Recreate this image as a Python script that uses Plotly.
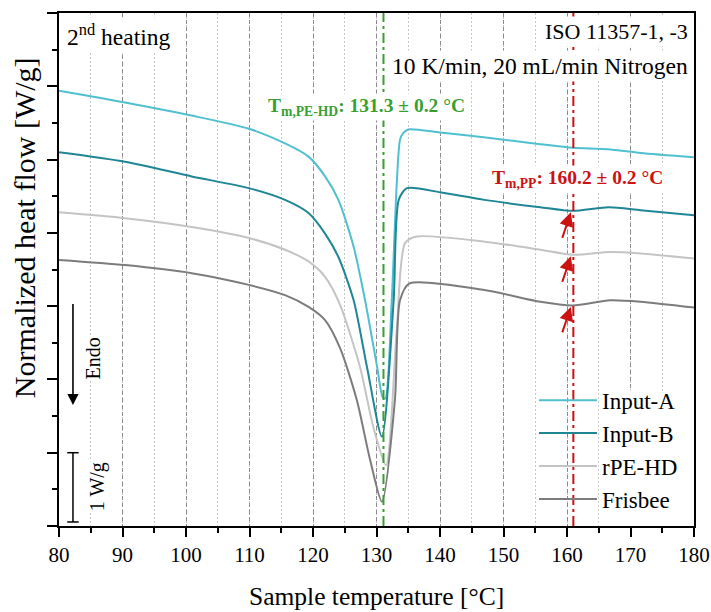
import plotly.graph_objects as go

# ---- data ----
temp_a = [80, 90.4, 100.9, 109.9, 115.6, 119.3, 121.9, 124.0, 126.4, 128.2, 130.1, 131.0, 131.4, 132.4, 133.7, 134.2, 135.0, 140.0, 147.2, 155.8, 160.9, 166.4, 171.6, 180]
flow_a = [5.94, 5.78, 5.60, 5.42, 5.22, 5.04, 4.77, 4.45, 3.81, 3.08, 2.17, 1.75, 1.74, 3.08, 5.27, 5.36, 5.41, 5.37, 5.30, 5.21, 5.16, 5.14, 5.09, 5.03]

temp_b = [80, 90.4, 100.9, 109.9, 115.6, 119.3, 121.9, 124.0, 126.4, 128.5, 130.85, 132.7, 133.5, 134.8, 140.2, 147.0, 155.8, 160.9, 166.6, 171.6, 180]
flow_b = [5.10, 4.97, 4.77, 4.61, 4.45, 4.27, 3.99, 3.67, 3.08, 2.17, 1.22, 3.08, 4.45, 4.61, 4.55, 4.45, 4.35, 4.30, 4.35, 4.31, 4.24]

temp_r = [80, 90.4, 100.9, 109.9, 115.6, 119.3, 121.9, 124.2, 127.4, 129.5, 131.5, 133.2, 134.5, 136.3, 147.0, 155.8, 161.0, 166.8, 171.6, 180]
flow_r = [4.28, 4.20, 4.08, 3.93, 3.77, 3.61, 3.40, 3.03, 2.17, 1.35, 0.83, 2.70, 3.86, 3.95, 3.88, 3.77, 3.70, 3.74, 3.72, 3.65]

temp_f = [80, 90.4, 100.9, 109.9, 115.6, 119.3, 121.9, 124.3, 126.9, 129.0, 130.85, 132.9, 133.7, 135.2, 147.0, 155.8, 160.9, 166.8, 171.6, 180]
flow_f = [3.63, 3.56, 3.45, 3.29, 3.15, 2.99, 2.81, 2.42, 1.72, 0.90, 0.33, 1.72, 3.08, 3.31, 3.22, 3.06, 3.01, 3.08, 3.06, 2.98]

series_names = ["Input-A", "Input-B", "rPE-HD", "Frisbee"]
series_colors = ["#50c0d0", "#1f8695", "#c4c4c4", "#7c7c7c"]

tm_pe_line = 131.1
tm_pp_line = 161.0
pp_dip_temp = 160.6
pp_dip_flows = [4.28, 3.68, 2.99]

x_ticks = list(range(80, 181, 10))

FONT = "Liberation Serif"
GREEN = "#3a9f32"
RED = "#cc1111"
DASHDOT = "10px,4px,3px,4px"

fig = go.Figure()

# white box behind legend text (hides grid lines there)
fig.add_shape(type="rect", xref="x", yref="y", x0=165.0, x1=180, y0=0, y1=1.85,
              fillcolor="white", line_width=0, layer="between")

for t, f, name, col in zip([temp_a, temp_b, temp_r, temp_f],
                           [flow_a, flow_b, flow_r, flow_f],
                           series_names, series_colors):
    fig.add_trace(go.Scatter(x=t, y=f, mode="lines", name=name,
                             line=dict(color=col, width=2, shape="spline", smoothing=0.7)))

# melting temperature lines
fig.add_shape(type="line", xref="x", yref="paper", x0=tm_pe_line, x1=tm_pe_line, y0=0, y1=1,
              line=dict(color=GREEN, width=2, dash=DASHDOT), layer="above")
fig.add_shape(type="line", xref="x", yref="paper", x0=tm_pp_line, x1=tm_pp_line, y0=0, y1=1,
              line=dict(color=RED, width=2, dash=DASHDOT), layer="above")

ann = []
# texts
ann.append(dict(x=0.008, y=0.957, xref="paper", yref="paper", xanchor="left", yanchor="middle",
                text="2<sup>nd</sup> heating", showarrow=False, font=dict(family=FONT, size=23.5, color="black"),
                bgcolor="white", borderpad=2))
ann.append(dict(x=0.995, y=0.964, xref="paper", yref="paper", xanchor="right", yanchor="middle",
                text="ISO 11357-1, -3", showarrow=False, font=dict(family=FONT, size=22, color="black"),
                bgcolor="white", borderpad=2))
ann.append(dict(x=0.995, y=0.897, xref="paper", yref="paper", xanchor="right", yanchor="middle",
                text="10 K/min, 20 mL/min Nitrogen", showarrow=False, font=dict(family=FONT, size=23.5, color="black"),
                bgcolor="white", borderpad=2))
ann.append(dict(x=128.5, y=5.72, xref="x", yref="y", xanchor="center", yanchor="middle",
                text="<b>T<sub>m,PE-HD</sub>: 131.3 ± 0.2 °C</b>", showarrow=False,
                font=dict(family=FONT, size=19.5, color=GREEN), bgcolor="white", borderpad=1))
ann.append(dict(x=161.7, y=4.74, xref="x", yref="y", xanchor="center", yanchor="middle",
                text="<b>T<sub>m,PP</sub>: 160.2 ± 0.2 °C</b>", showarrow=False,
                font=dict(family=FONT, size=19.5, color=RED), bgcolor="white", borderpad=1))
# PP arrows
for fv in pp_dip_flows:
    ann.append(dict(x=pp_dip_temp, y=fv, xref="x", yref="y", ax=-9, ay=27, text="",
                    showarrow=True, arrowhead=2, arrowsize=1.4, arrowwidth=2, arrowcolor=RED, standoff=0))
# Endo arrow
ann.append(dict(x=82.2, y=1.65, ax=82.2, ay=3.05, xref="x", yref="y", axref="x", ayref="y", text="",
                showarrow=True, arrowhead=2, arrowsize=1.4, arrowwidth=1.6, arrowcolor="black", standoff=0))
ann.append(dict(x=85.4, y=2.29, xref="x", yref="y", text="Endo", textangle=-90, showarrow=False,
                font=dict(family=FONT, size=20, color="black"), bgcolor="white", borderpad=0))
ann.append(dict(x=86.0, y=0.53, xref="x", yref="y", text="1 W/g", textangle=-90, showarrow=False,
                font=dict(family=FONT, size=20, color="black"), bgcolor="white", borderpad=0))
# axis titles
ann.append(dict(x=0.5, y=-0.137, xref="paper", yref="paper", xanchor="center", yanchor="middle",
                text="Sample temperature [°C]", showarrow=False, font=dict(family=FONT, size=25.5, color="black")))
ann.append(dict(x=-0.054, y=0.582, xref="paper", yref="paper", xanchor="center", yanchor="middle",
                text="Normalized heat flow [W/g]", textangle=-90, showarrow=False,
                font=dict(family=FONT, size=30, color="black")))

# scale bar 1 W/g
fig.add_shape(type="line", xref="x", yref="y", x0=82.2, x1=82.2, y0=0.055, y1=1.0, line=dict(color="black", width=1.5))
fig.add_shape(type="line", xref="x", yref="y", x0=81.3, x1=83.1, y0=1.0, y1=1.0, line=dict(color="black", width=1.5))
fig.add_shape(type="line", xref="x", yref="y", x0=81.3, x1=83.1, y0=0.055, y1=0.055, line=dict(color="black", width=1.5))

fig.update_layout(
    width=711, height=612,
    margin=dict(l=59, r=17, t=13, b=86, autoexpand=False),
    plot_bgcolor="white", paper_bgcolor="white",
    font=dict(family=FONT, color="black"),
    annotations=ann,
    legend=dict(x=0.748, y=0.287, xanchor="left", yanchor="top", bgcolor="rgba(0,0,0,0)",
                font=dict(family=FONT, size=23, color="black"), itemwidth=58, tracegroupgap=0),
    xaxis=dict(range=[80, 180], tickvals=x_ticks, ticks="outside", ticklen=9, tickwidth=1.5,
               tickcolor="black", showline=True, linecolor="black", linewidth=1.5, mirror=True,
               tickfont=dict(family=FONT, size=21, color="black"),
               showgrid=True, gridcolor="#8a8a8a", griddash="4px,3px", gridwidth=1,
               minor=dict(dtick=5, ticks="outside", ticklen=5, tickwidth=1.5, tickcolor="black",
                          showgrid=True, gridcolor="#c4c4c4", griddash="2px,2px", gridwidth=1),
               zeroline=False),
    yaxis=dict(range=[0, 7], tickvals=list(range(0, 8)), ticks="outside", ticklen=10, tickwidth=1.5,
               tickcolor="black", showticklabels=False, showline=True, linecolor="black",
               linewidth=1.5, mirror=True, showgrid=False, zeroline=False,
               minor=dict(dtick=0.5, ticks="outside", ticklen=5, tickwidth=1.5, tickcolor="black",
                          showgrid=False)),
)

fig.write_html("out.html")
